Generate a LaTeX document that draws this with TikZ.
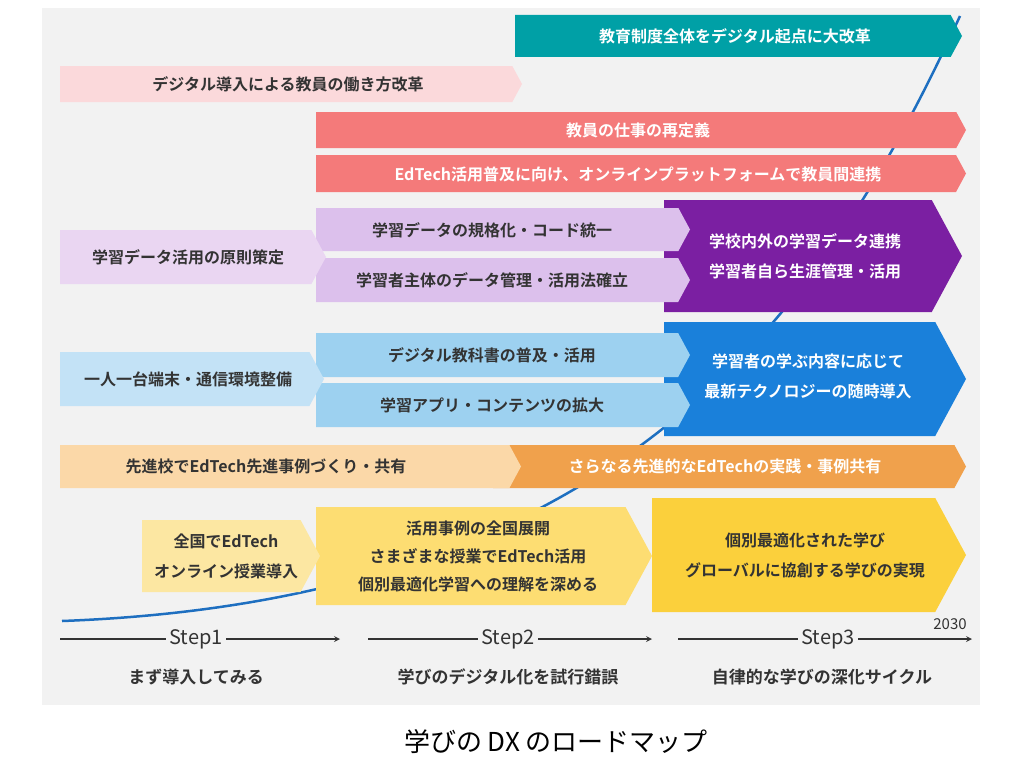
\documentclass[tikz,border=0pt]{standalone}
\usepackage{fontspec}
\setmainfont{Noto Sans CJK JP}
\newfontfamily\bfjp{Noto Sans CJK JP Bold}
\definecolor{panel}{HTML}{F2F2F2}
\definecolor{teal}{HTML}{00A0A6}
\definecolor{pinkl}{HTML}{FBD9DB}
\definecolor{salmon}{HTML}{F47A7A}
\definecolor{purl}{HTML}{EAD6F2}
\definecolor{purm}{HTML}{DCC0EC}
\definecolor{purd}{HTML}{7B1FA2}
\definecolor{bluel}{HTML}{C3E2F6}
\definecolor{bluem}{HTML}{9DD1F0}
\definecolor{blued}{HTML}{1A80DA}
\definecolor{orl}{HTML}{FBD8A8}
\definecolor{ord}{HTML}{F0A14C}
\definecolor{yel}{HTML}{FCE7A2}
\definecolor{yem}{HTML}{FDDD72}
\definecolor{yed}{HTML}{FBD03C}
\definecolor{curve}{HTML}{1E6FC0}
\definecolor{txt}{HTML}{333333}
% arrow body: x1,y1,x2,y2,colour
\newcommand{\band}[5]{%
  \fill[#5] (#1,#2) -- ({#3-0.27*(#4-#2)},#2) -- (#3,{(#2+#4)/2})
    -- ({#3-0.27*(#4-#2)},#4) -- (#1,#4) -- cycle;}
\tikzset{
  lab/.style={font=\bfjp\fontsize{16}{30}\selectfont, align=center, text=txt},
  labw/.style={lab, text=white},
  steptext/.style={font=\fontsize{20}{24}\selectfont, text=txt},
  subtext/.style={font=\bfjp\fontsize{17}{20}\selectfont, text=txt},
  stepline/.style={line width=1.6pt, txt},
}
\begin{document}
\begin{tikzpicture}[x=1pt,y=-1pt]
\useasboundingbox (0,0) rectangle (1024,768);
\fill[panel] (42,8) rectangle (980,705);
\draw[curve, line width=2.5pt] (62,621) .. controls (620,600) and (820,320) .. (960,16);

% row 1
\band{515}{15}{962}{57}{teal}
\node[labw] (reform) at (735,36) {教育制度全体をデジタル起点に大改革};
\band{60}{66}{522}{102}{pinkl}
\node[lab] (work) at (288,84) {デジタル導入による教員の働き方改革};
\band{316}{112}{966}{148}{salmon}
\node[labw] (redef) at (638,130) {教員の仕事の再定義};
\band{316}{155}{966}{192}{salmon}
\node[labw] (online) at (638,174) {EdTech活用普及に向け、オンラインプラットフォームで教員間連携};

% data
\band{664}{200}{962}{312}{purd}
\band{316}{208}{690}{251}{purm}
\band{316}{258}{690}{302}{purm}
\band{60}{230}{326}{284}{purl}
\node[labw] (link) at (805,256) {学校内外の学習データ連携\\学習者自ら生涯管理・活用};
\node[lab] (code) at (492,230) {学習データの規格化・コード統一};
\node[lab] (own) at (492,280) {学習者主体のデータ管理・活用法確立};
\node[lab] (rule) at (188,257) {学習データ活用の原則策定};

% devices
\band{664}{322}{966}{436}{blued}
\band{316}{333}{690}{377}{bluem}
\band{316}{383}{690}{427}{bluem}
\band{60}{352}{324}{406}{bluel}
\node[labw] (tech) at (808,376) {学習者の学ぶ内容に応じて\\最新テクノロジーの随時導入};
\node[lab] (text) at (492,355) {デジタル教科書の普及・活用};
\node[lab] (apps) at (492,405) {学習アプリ・コンテンツの拡大};
\node[lab] (dev) at (188,379) {一人一台端末・通信環境整備};

% edtech
\band{493}{445}{966}{488}{ord}
\band{60}{445}{521}{488}{orl}
\node[labw] (more) at (725,466) {さらなる先進的なEdTechの実践・事例共有};
\node[lab] (pilot) at (266,466) {先進校でEdTech先進事例づくり・共有};

% personal
\band{652}{498}{966}{612}{yed}
\band{316}{507}{652}{605}{yem}
\band{142}{520}{320}{592}{yel}
\node[lab] (indiv) at (805,555) {個別最適化された学び\\グローバルに協創する学びの実現};
\node[lab, font=\bfjp\fontsize{16}{28}\selectfont] (spread) at (478,556) {活用事例の全国展開\\さまざまな授業でEdTech活用\\個別最適化学習への理解を深める};
\node[lab] (nation) at (226,556) {全国でEdTech\\オンライン授業導入};

% steps
\node[steptext] (s1) at (196,639) {Step1};
\node[steptext] (s2) at (508,639) {Step2};
\node[steptext] (s3) at (828,639) {Step3};
\node[font=\fontsize{15}{18}\selectfont, text=txt] (year) at (950,624) {2030};
\draw[stepline] (60,639) -- (s1.west);
\draw[stepline, -stealth] (s1.east) -- (340,639);
\draw[stepline] (368,639) -- (s2.west);
\draw[stepline, -stealth] (s2.east) -- (652,639);
\draw[stepline] (678,639) -- (s3.west);
\draw[stepline, -stealth] (s3.east) -- (972,639);
\node[subtext] (p1) at (196,677) {まず導入してみる};
\node[subtext] (p2) at (508,677) {学びのデジタル化を試行錯誤};
\node[subtext] (p3) at (822,677) {自律的な学びの深化サイクル};

\node[font=\fontsize{26}{30}\selectfont] (title) at (556,742) {学びの DX のロードマップ};
\end{tikzpicture}
\end{document}
